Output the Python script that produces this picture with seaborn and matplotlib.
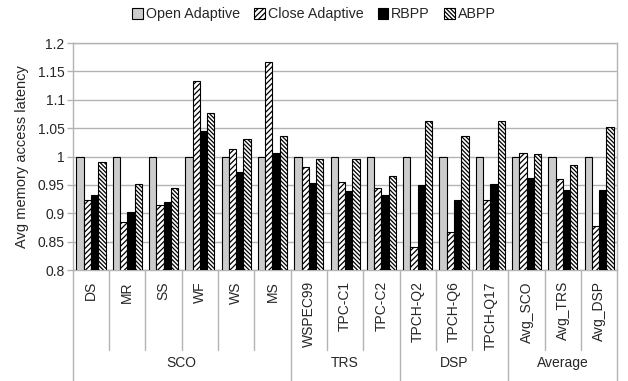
import matplotlib
matplotlib.use("Agg")
import matplotlib.pyplot as plt
from matplotlib.patches import Patch
import seaborn as sns
import pandas as pd

categories = ["DS", "MR", "SS", "WF", "WS", "MS", "WSPEC99", "TPC-C1", "TPC-C2",
              "TPCH-Q2", "TPCH-Q6", "TPCH-Q17", "Avg_SCO", "Avg_TRS", "Avg_DSP"]
groups = ["SCO", "TRS", "DSP", "Average"]
group_sizes = [6, 3, 3, 3]
series = ["Open Adaptive", "Close Adaptive", "RBPP", "ABPP"]

open_adaptive = [1.0] * 15
close_adaptive = [0.924, 0.884, 0.914, 1.133, 1.014, 1.166, 0.981, 0.956, 0.945,
                  0.840, 0.867, 0.923, 1.006, 0.961, 0.877]
rbpp = [0.932, 0.902, 0.920, 1.045, 0.972, 1.006, 0.954, 0.939, 0.932,
        0.950, 0.923, 0.951, 0.962, 0.942, 0.941]
abpp = [0.990, 0.952, 0.944, 1.077, 1.031, 1.036, 0.996, 0.995, 0.966,
        1.062, 1.036, 1.062, 1.005, 0.986, 1.053]

yticks = [0.8, 0.85, 0.9, 0.95, 1.0, 1.05, 1.1, 1.15, 1.2]
ytick_labels = ["0.8", "0.85", "0.9", "0.95", "1", "1.05", "1.1", "1.15", "1.2"]

colors = ["#cccccc", "white", "black", "white"]
hatches = [None, "//////", None, "\\\\\\\\\\\\\\\\"]

rows = []
for s, vals in zip(series, [open_adaptive, close_adaptive, rbpp, abpp]):
    for c, v in zip(categories, vals):
        rows.append({"category": c, "series": s, "value": v})
df = pd.DataFrame(rows)

sns.set_style("white")
plt.rcParams["font.family"] = ["Liberation Sans", "DejaVu Sans"]
plt.rcParams["hatch.linewidth"] = 0.9

fig = plt.figure(figsize=(6.28, 3.81), dpi=100)
ax = fig.add_axes([0.116, 0.291, 0.867, 0.596])

sns.barplot(data=df, x="category", y="value", hue="series", order=categories,
            hue_order=series, palette=colors, width=0.8, edgecolor="black",
            linewidth=0.8, ax=ax, legend=False, zorder=3)

for cont, h in zip(ax.containers, hatches):
    for bar in cont:
        if h:
            bar.set_hatch(h)

ax.set_ylim(0.8, 1.2)
ax.set_xlim(-0.5, len(categories) - 0.5)
ax.set_yticks(yticks)
ax.set_yticklabels(ytick_labels, fontsize=10)
ax.yaxis.grid(True, color="#b3b3b3", linewidth=1.0, zorder=0)
ax.set_axisbelow(True)
for sp in ax.spines.values():
    sp.set_color("#b3b3b3")
    sp.set_linewidth(1.0)
ax.tick_params(axis="y", which="major", left=True, length=4, color="#b3b3b3", width=1, pad=2)
ax.tick_params(axis="x", which="major", bottom=False, length=0, pad=8)
ax.set_xticks(range(len(categories)))
ax.set_xticklabels(categories, rotation=90, fontsize=10, va="top")
ax.set_xlabel("")
ax.set_ylabel("Avg memory access latency", fontsize=10.5, labelpad=6)

trans = ax.get_xaxis_transform()
boundaries_group = [-0.5]
acc = -0.5
for gs in group_sizes:
    acc += gs
    boundaries_group.append(acc)
for i in range(len(categories) + 1):
    xb = i - 0.5
    if any(abs(xb - g) < 1e-9 for g in boundaries_group):
        ax.plot([xb, xb], [0, -0.49], transform=trans, color="#b3b3b3", lw=1.0, clip_on=False)
    else:
        ax.plot([xb, xb], [0, -0.352], transform=trans, color="#b3b3b3", lw=1.0, clip_on=False)

for g, a, b in zip(groups, boundaries_group[:-1], boundaries_group[1:]):
    ax.text((a + b) / 2, -0.41, g, transform=trans, ha="center", va="center", fontsize=10)

handles = [Patch(facecolor=c, edgecolor="black", hatch=h, linewidth=0.8, label=s)
           for c, h, s in zip(colors, hatches, series)]
fig.legend(handles=handles, loc="center", bbox_to_anchor=(0.5, 0.962), ncol=4,
           frameon=False, fontsize=10.3, handlelength=0.75, handleheight=0.75,
           handletextpad=0.2, columnspacing=1.0, borderaxespad=0)

fig.savefig("out.png", dpi=100)
